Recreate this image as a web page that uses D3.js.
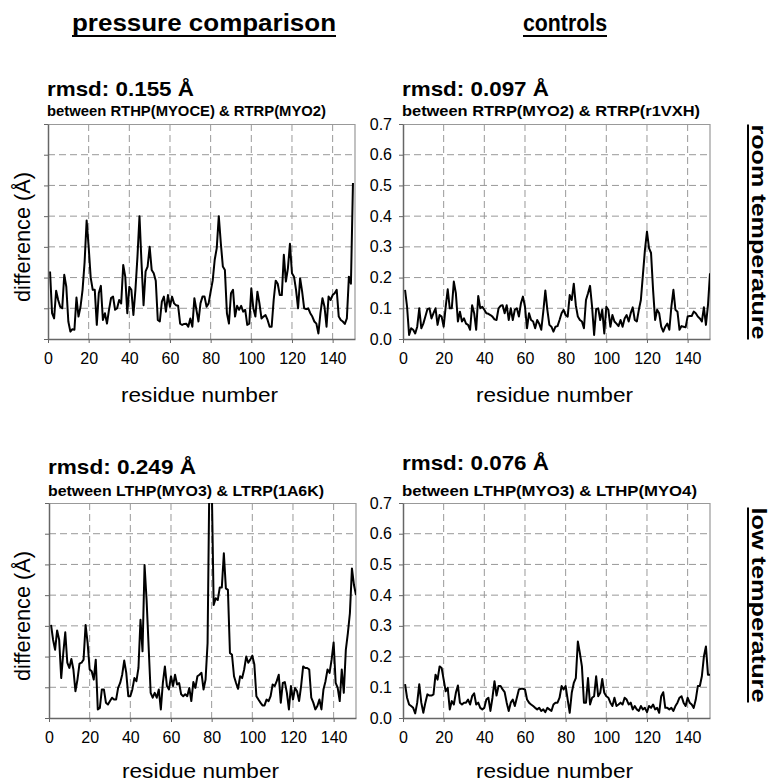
<!DOCTYPE html>
<html>
<head>
<meta charset="utf-8">
<script src="https://cdnjs.cloudflare.com/ajax/libs/d3/7.8.5/d3.min.js"></script>
<style>
  body { margin: 0; background: #fff; }
  svg { display: block; font-family: "Liberation Sans", Arial, sans-serif; }
</style>
</head>
<body>
<svg id="chart" width="771" height="784"></svg>
<script>
// x ticks and y ticks shared by all four panels
var xTicks = [0, 20, 40, 60, 80, 100, 120, 140];
var yTicks = [0, 0.1, 0.2, 0.3, 0.4, 0.5, 0.6, 0.7];

// difference per residue (Å), residue 1 onwards
var rtDiff = [
  0.22,0.084,0.067,0.157,0.127,0.105,0.10,0.209,0.17,0.057,
  0.024,0.032,0.03,0.135,0.073,0.105,0.16,0.25,0.386,0.30,
  0.20,0.16,0.16,0.046,0.15,0.173,0.062,0.084,0.05,0.095,
  0.133,0.138,0.095,0.10,0.127,0.116,0.241,0.203,0.084,0.17,
  0.16,0.078,0.16,0.268,0.40,0.247,0.11,0.22,0.236,0.30,
  0.225,0.214,0.19,0.062,0.057,0.122,0.138,0.089,0.143,0.105,
  0.138,0.116,0.11,0.108,0.05,0.046,0.049,0.05,0.04,0.067,
  0.04,0.133,0.095,0.057,0.116,0.138,0.138,0.105,0.116,0.154,
  0.19,0.258,0.296,0.40,0.312,0.236,0.225,0.084,0.05,0.149,
  0.16,0.073,0.108,0.095,0.108,0.089,0.095,0.046,0.05,0.165,
  0.10,0.073,0.154,0.116,0.067,0.073,0.078,0.062,0.04,0.04,
  0.127,0.19,0.18,0.143,0.143,0.274,0.187,0.23,0.31,0.214,
  0.203,0.16,0.10,0.198,0.154,0.10,0.097,0.10,0.084,0.073,
  0.057,0.05,0.018,0.084,0.133,0.105,0.04,0.138,0.127,0.143,
  0.149,0.16,0.073,0.062,0.057,0.049,0.067,0.203,0.18,0.508
];
var rtControl = [
  0.16,0.105,0.013,0.035,0.03,0.018,0.04,0.10,0.035,0.05,
  0.073,0.097,0.10,0.067,0.084,0.10,0.046,0.078,0.073,0.04,
  0.105,0.162,0.10,0.10,0.187,0.149,0.057,0.089,0.057,0.067,
  0.05,0.046,0.03,0.11,0.084,0.03,0.14,0.10,0.105,0.095,
  0.084,0.082,0.078,0.073,0.064,0.062,0.10,0.108,0.11,0.084,
  0.11,0.062,0.10,0.062,0.095,0.10,0.073,0.116,0.138,0.105,
  0.035,0.084,0.062,0.057,0.035,0.062,0.05,0.03,0.089,0.158,
  0.095,0.046,0.04,0.024,0.04,0.042,0.062,0.084,0.095,0.078,
  0.073,0.143,0.127,0.18,0.11,0.073,0.062,0.057,0.035,0.127,
  0.149,0.173,0.105,0.013,0.097,0.10,0.062,0.095,0.018,0.105,
  0.095,0.04,0.078,0.057,0.05,0.042,0.062,0.04,0.067,0.078,
  0.057,0.084,0.103,0.062,0.057,0.095,0.127,0.209,0.29,0.35,
  0.296,0.28,0.16,0.062,0.095,0.084,0.04,0.024,0.04,0.05,
  0.03,0.105,0.16,0.095,0.089,0.03,0.042,0.04,0.038,0.073,
  0.075,0.075,0.089,0.084,0.073,0.067,0.057,0.103,0.046,0.11,
  0.214
];
var ltDiff = [
  0.303,0.255,0.222,0.285,0.255,0.13,0.21,0.279,0.18,0.163,
  0.192,0.158,0.087,0.125,0.177,0.18,0.19,0.303,0.244,0.158,
  0.152,0.125,0.19,0.028,0.033,0.093,0.093,0.05,0.044,0.055,
  0.066,0.06,0.06,0.098,0.114,0.141,0.187,0.147,0.071,0.071,
  0.093,0.13,0.12,0.163,0.32,0.217,0.498,0.384,0.233,0.082,
  0.066,0.082,0.066,0.093,0.028,0.114,0.168,0.104,0.093,0.136,
  0.104,0.141,0.109,0.114,0.077,0.071,0.077,0.071,0.098,0.055,
  0.117,0.098,0.136,0.141,0.147,0.093,0.125,0.244,0.85,0.78,
  0.368,0.39,0.384,0.425,0.425,0.536,0.422,0.417,0.212,0.206,
  0.136,0.114,0.095,0.136,0.13,0.158,0.20,0.18,0.19,0.203,
  0.174,0.071,0.06,0.05,0.041,0.041,0.06,0.055,0.071,0.109,
  0.104,0.12,0.141,0.05,0.114,0.117,0.082,0.028,0.104,0.06,
  0.098,0.087,0.055,0.104,0.168,0.163,0.163,0.158,0.066,0.05,
  0.028,0.039,0.06,0.028,0.093,0.12,0.158,0.147,0.19,0.246,
  0.114,0.098,0.055,0.158,0.082,0.222,0.276,0.341,0.487,0.433,
  0.40
];
var ltControl = [
  0.11,0.066,0.044,0.039,0.033,0.015,0.05,0.11,0.05,0.017,
  0.05,0.077,0.073,0.073,0.077,0.141,0.125,0.168,0.163,0.125,
  0.087,0.098,0.028,0.055,0.044,0.082,0.106,0.05,0.044,0.05,
  0.05,0.06,0.044,0.071,0.08,0.044,0.05,0.033,0.028,0.033,
  0.06,0.066,0.023,0.066,0.12,0.073,0.104,0.104,0.093,0.084,
  0.05,0.023,0.05,0.06,0.039,0.066,0.093,0.095,0.095,0.093,
  0.06,0.05,0.044,0.039,0.033,0.028,0.033,0.023,0.028,0.019,
  0.033,0.028,0.023,0.044,0.05,0.05,0.066,0.104,0.093,0.104,
  0.06,0.017,0.082,0.114,0.13,0.249,0.211,0.168,0.05,0.05,
  0.13,0.044,0.066,0.071,0.136,0.071,0.082,0.127,0.082,0.071,
  0.066,0.05,0.039,0.066,0.039,0.044,0.05,0.044,0.066,0.06,
  0.044,0.05,0.028,0.039,0.028,0.023,0.039,0.028,0.033,0.019,
  0.039,0.033,0.044,0.028,0.033,0.017,0.071,0.084,0.033,0.033,
  0.028,0.033,0.023,0.039,0.05,0.066,0.071,0.05,0.039,0.066,
  0.05,0.044,0.033,0.06,0.104,0.104,0.136,0.20,0.233,0.141,
  0.141
];

var panels = [
  {left: 48,  top: 124, values: rtDiff,    yLabels: false, rmsd: "rmsd: 0.155 Å", pair: "between RTHP(MYOCE) & RTRP(MYO2)", rmsdY: 96, pairY: 116, rmsdW: 147, pairW: 279, axisTitleY: 402},
  {left: 403, top: 124, values: rtControl, yLabels: true,  rmsd: "rmsd: 0.097 Å", pair: "between RTRP(MYO2) & RTRP(r1VXH)", rmsdY: 96, pairY: 116, rmsdW: 147, pairW: 298, axisTitleY: 402},
  {left: 49,  top: 503, values: ltDiff,    yLabels: false, rmsd: "rmsd: 0.249 Å", pair: "between LTHP(MYO3) & LTRP(1A6K)",  rmsdY: 474, pairY: 496, rmsdW: 148, pairW: 276, axisTitleY: 778},
  {left: 403, top: 503, values: ltControl, yLabels: true,  rmsd: "rmsd: 0.076 Å", pair: "between LTHP(MYO3) & LTHP(MYO4)",  rmsdY: 470, pairY: 496, rmsdW: 147, pairW: 295, axisTitleY: 778}
];

var w = 307, h = 215;
var svg = d3.select("#chart");

var x = d3.scaleLinear().domain([0, 151]).range([0, w]);
var y = d3.scaleLinear().domain([0, 0.7]).range([h, 0]);

function label(tx, ty, text, size, bold, anchor, width) {
  var t = svg.append("text")
    .attr("x", tx).attr("y", ty)
    .attr("font-size", size)
    .attr("font-weight", bold ? "bold" : "normal")
    .attr("text-anchor", anchor || "start")
    .attr("fill", "#000")
    .text(text);
  if (width) t.attr("textLength", width).attr("lengthAdjust", "spacingAndGlyphs");
  return t;
}

panels.forEach(function(p, i) {
  var g = svg.append("g").attr("transform", "translate(" + p.left + "," + p.top + ")");

  g.append("clipPath").attr("id", "clip" + i)
    .append("rect").attr("width", w).attr("height", h);

  // dashed grid
  g.selectAll(".hgrid").data(yTicks.slice(1, 7)).enter().append("line")
    .attr("x1", 0).attr("x2", w)
    .attr("y1", function(d) { return y(d); }).attr("y2", function(d) { return y(d); })
    .attr("stroke", "#999").attr("stroke-dasharray", "7,4");
  g.selectAll(".vgrid").data(xTicks.slice(1)).enter().append("line")
    .attr("y1", 0).attr("y2", h)
    .attr("x1", function(d) { return x(d); }).attr("x2", function(d) { return x(d); })
    .attr("stroke", "#999").attr("stroke-dasharray", "7,4");

  // top and right border
  g.append("path").attr("d", "M0,0.5H" + w + "V" + h)
    .attr("fill", "none").attr("stroke", "#999").attr("stroke-width", 1.2);

  var line = d3.line()
    .x(function(d, k) { return x(k + 1); })
    .y(function(d) { return y(d); });
  g.append("path").datum(p.values)
    .attr("clip-path", "url(#clip" + i + ")")
    .attr("d", line)
    .attr("fill", "none").attr("stroke", "#000")
    .attr("stroke-width", 2).attr("stroke-linejoin", "round");

  var xAxis = g.append("g").attr("transform", "translate(0," + h + ")")
    .call(d3.axisBottom(x).tickValues(xTicks).tickSize(4).tickPadding(10).tickSizeOuter(0));
  var yAxis = g.append("g")
    .call(d3.axisLeft(y).tickValues(yTicks).tickSize(4).tickPadding(7).tickSizeOuter(0)
      .tickFormat(p.yLabels ? d3.format(".1f") : function() { return ""; }));
  [xAxis, yAxis].forEach(function(a) {
    a.select(".domain").attr("stroke", "#666").attr("stroke-width", 1.5);
    a.selectAll(".tick line").attr("stroke", "#666");
    a.selectAll("text").attr("font-size", 16).attr("fill", "#000")
      .attr("font-family", "Liberation Sans, Arial, sans-serif");
  });

  label(p.left - 1, p.rmsdY, p.rmsd, 21, true, "start", p.rmsdW);
  label(p.left - 1, p.pairY, p.pair, 14, true, "start", p.pairW);
  label(p.left + w / 2 - 2, p.axisTitleY, "residue number", 21, false, "middle", 157);
});

// y axis titles
[237, 616].forEach(function(cy) {
  label(0, 0, "difference (Å)", 22, false, "middle", 130)
    .attr("transform", "translate(30," + cy + ") rotate(-90)");
});

// column headings
label(204, 31, "pressure comparison", 23, true, "middle", 264);
svg.append("line").attr("x1", 72).attr("x2", 336).attr("y1", 36).attr("y2", 36)
  .attr("stroke", "#000").attr("stroke-width", 2);
label(565, 31, "controls", 23, true, "middle", 84);
svg.append("line").attr("x1", 523).attr("x2", 607).attr("y1", 36).attr("y2", 36)
  .attr("stroke", "#000").attr("stroke-width", 2);

// row headings
[{text: "room temperature", cy: 232, len: 215}, {text: "low temperature", cy: 605, len: 195}].forEach(function(r) {
  label(0, 0, r.text, 21, true, "middle", r.len)
    .attr("transform", "translate(752," + r.cy + ") rotate(90)");
  svg.append("line").attr("x1", 748).attr("x2", 748)
    .attr("y1", r.cy - r.len / 2).attr("y2", r.cy + r.len / 2)
    .attr("stroke", "#000").attr("stroke-width", 2);
});
</script>
</body>
</html>
